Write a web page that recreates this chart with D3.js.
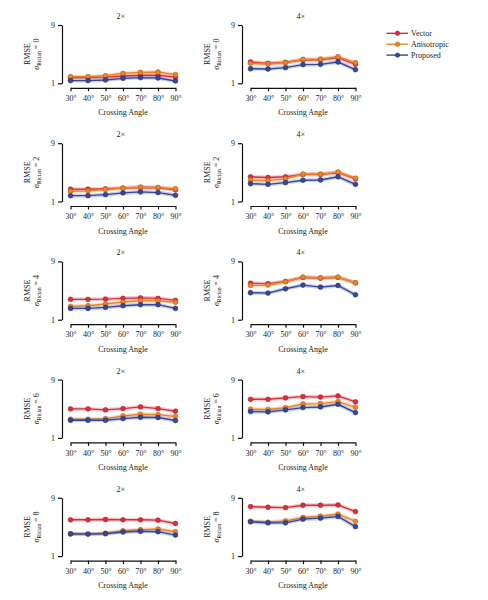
<!DOCTYPE html>
<html><head><meta charset="utf-8">
<script src="https://cdn.jsdelivr.net/npm/d3@7"></script>
<style>
html,body{margin:0;padding:0;background:#fff;}
svg text{font-family:"Liberation Serif","Times New Roman",serif;fill:#222;}
</style></head>
<body><svg id="c" width="488" height="600"></svg>
<script>
const angles = [30, 40, 50, 60, 70, 80, 90];
const angleLabels = ["30°", "40°", "50°", "60°", "70°", "80°", "90°"];
const sigmas = [0, 2, 4, 6, 8];
const scales = ["2×", "4×"];
const seriesNames = ["Vector", "Anisotropic", "Proposed"];
const yTicks = [1, 9];

// rows: sigma 0,2,4,6,8 ; columns: angles 30..90
const vector2x = [
  [1.80, 1.80, 1.85, 2.00, 2.10, 2.10, 1.85],
  [2.69, 2.69, 2.74, 2.84, 2.93, 2.88, 2.60],
  [3.79, 3.79, 3.83, 3.93, 4.00, 3.93, 3.65],
  [4.98, 4.98, 4.84, 5.02, 5.25, 5.02, 4.66],
  [5.98, 5.98, 6.02, 5.98, 5.98, 5.93, 5.47]
];
const anisotropic2x = [
  [1.91, 1.91, 2.05, 2.37, 2.50, 2.55, 2.19],
  [2.41, 2.46, 2.65, 2.84, 2.98, 2.93, 2.75],
  [2.83, 2.92, 3.15, 3.42, 3.60, 3.60, 3.38],
  [3.56, 3.56, 3.65, 4.02, 4.24, 4.20, 3.93],
  [4.02, 4.02, 4.16, 4.49, 4.63, 4.72, 4.35]
];
const proposed2x = [
  [1.37, 1.37, 1.46, 1.68, 1.78, 1.73, 1.32],
  [1.80, 1.80, 1.94, 2.18, 2.32, 2.22, 1.85],
  [2.55, 2.55, 2.69, 2.92, 3.06, 3.06, 2.55],
  [3.42, 3.42, 3.42, 3.65, 3.83, 3.79, 3.38],
  [4.07, 4.02, 4.07, 4.30, 4.40, 4.35, 3.88]
];
const vector4x = [
  [3.92, 3.74, 3.88, 4.20, 4.24, 4.50, 3.60],
  [4.39, 4.29, 4.39, 4.72, 4.72, 4.95, 4.10],
  [6.00, 5.95, 6.25, 6.80, 6.70, 6.80, 6.05],
  [6.30, 6.30, 6.49, 6.67, 6.60, 6.76, 5.94],
  [7.79, 7.70, 7.65, 7.98, 7.98, 8.02, 7.10]
];
const anisotropic4x = [
  [3.74, 3.65, 3.83, 4.29, 4.33, 4.65, 3.83],
  [3.92, 3.87, 4.10, 4.76, 4.76, 5.05, 4.20],
  [5.70, 5.75, 6.20, 6.85, 6.75, 6.85, 6.07],
  [4.93, 4.89, 5.16, 5.66, 5.70, 5.98, 5.20],
  [5.79, 5.65, 5.84, 6.30, 6.49, 6.77, 5.77]
];
const proposed4x = [
  [3.00, 2.96, 3.15, 3.56, 3.60, 3.92, 2.87],
  [3.45, 3.35, 3.59, 3.92, 3.96, 4.39, 3.36],
  [4.70, 4.65, 5.24, 5.75, 5.47, 5.70, 4.42],
  [4.61, 4.57, 4.84, 5.16, 5.25, 5.61, 4.47],
  [5.70, 5.56, 5.56, 6.07, 6.21, 6.44, 5.04]
];

const colors = ["#dc2d3c", "#e8852b", "#34479a"];
const strokeDark = ["#a8202c", "#b8621c", "#22306e"];
const data = [
  [vector2x, anisotropic2x, proposed2x],
  [vector4x, anisotropic4x, proposed4x]
];

const svg = d3.select("#c");
const colAxisX = [62, 242];
const rowTop = 25, rowStep = 118.2, plotH = 58.3;
const xGap = 8.5, xW = 105;
const FS = 8;

scales.forEach((sc, ci) => {
  sigmas.forEach((sg, ri) => {
    const ax = colAxisX[ci];
    const top = rowTop + ri * rowStep;
    const bottom = top + plotH;
    const x = d3.scalePoint().domain(angles).range([ax + xGap, ax + xGap + xW]);
    const y = d3.scaleLinear().domain([1, 9]).range([bottom, top]);
    const g = svg.append("g");

    // y axis
    const yAxis = d3.axisLeft(y).tickValues(yTicks).tickSize(4).tickPadding(3).tickSizeOuter(0);
    const gy = g.append("g").attr("transform", `translate(${ax},0)`).call(yAxis);
    gy.select(".domain").attr("stroke", "#111").attr("stroke-width", 1.2);
    gy.selectAll(".tick line").attr("stroke", "#111").attr("stroke-width", 1.2);
    gy.selectAll(".tick text").attr("font-size", FS).attr("font-family", "Liberation Serif").attr("fill", "#222");

    // x axis
    const xAxis = d3.axisBottom(x).tickFormat((d, i) => angleLabels[i]).tickSize(3.5).tickPadding(4).tickSizeOuter(0);
    const gx = g.append("g").attr("transform", `translate(0,${bottom + 4.5})`).call(xAxis);
    gx.select(".domain").attr("stroke", "#111").attr("stroke-width", 1.2);
    gx.selectAll(".tick line").attr("stroke", "#111").attr("stroke-width", 1.2);
    gx.selectAll(".tick text").attr("font-size", FS).attr("font-family", "Liberation Serif").attr("fill", "#222");

    // x label
    g.append("text").attr("x", ax + xGap + xW / 2).attr("y", bottom + 32)
      .attr("text-anchor", "middle").attr("font-size", FS).text("Crossing Angle");

    // title
    g.append("text").attr("x", (ax + ax + xGap + xW) / 2 + 2).attr("y", top - 6)
      .attr("text-anchor", "middle").attr("font-size", 8).text(sc);

    // y labels
    const cy = (top + bottom) / 2;
    g.append("text").attr("transform", `translate(${ax - 32},${cy}) rotate(-90)`)
      .attr("text-anchor", "middle").attr("font-size", FS).text("RMSE");
    const t2 = g.append("text").attr("transform", `translate(${ax - 23},${cy}) rotate(-90)`)
      .attr("text-anchor", "middle").attr("font-size", FS);
    t2.append("tspan").attr("font-style", "italic").text("σ");
    t2.append("tspan").attr("font-size", 5.6).attr("dy", 2).text("Rician");
    t2.append("tspan").attr("dy", -2).text(" = " + sg);

    // series
    const line = d3.line().x((d, i) => x(angles[i])).y(d => y(d));
    data[ci].forEach((series, si) => {
      const vals = series[ri];
      g.append("path").datum(vals).attr("d", line).attr("fill", "none")
        .attr("stroke", colors[si]).attr("stroke-opacity", 0.25).attr("stroke-width", 4);
      g.append("path").datum(vals).attr("d", line).attr("fill", "none")
        .attr("stroke", colors[si]).attr("stroke-width", 1.4);
      g.selectAll(null).data(vals).enter().append("circle")
        .attr("cx", (d, i) => x(angles[i])).attr("cy", d => y(d)).attr("r", 2.4)
        .attr("fill", colors[si]).attr("stroke", strokeDark[si]).attr("stroke-width", 0.6);
    });
  });
});

// legend
const lg = svg.append("g");
seriesNames.forEach((n, i) => {
  const ly = 33.3 + i * 10.9;
  lg.append("line").attr("x1", 386.5).attr("x2", 408).attr("y1", ly).attr("y2", ly)
    .attr("stroke", colors[i]).attr("stroke-width", 1.4);
  lg.append("circle").attr("cx", 397.5).attr("cy", ly).attr("r", 2.2)
    .attr("fill", colors[i]).attr("stroke", strokeDark[i]).attr("stroke-width", 0.6);
  lg.append("text").attr("x", 411).attr("y", ly + 2.7).attr("font-size", FS).text(n);
});
</script></body></html>
